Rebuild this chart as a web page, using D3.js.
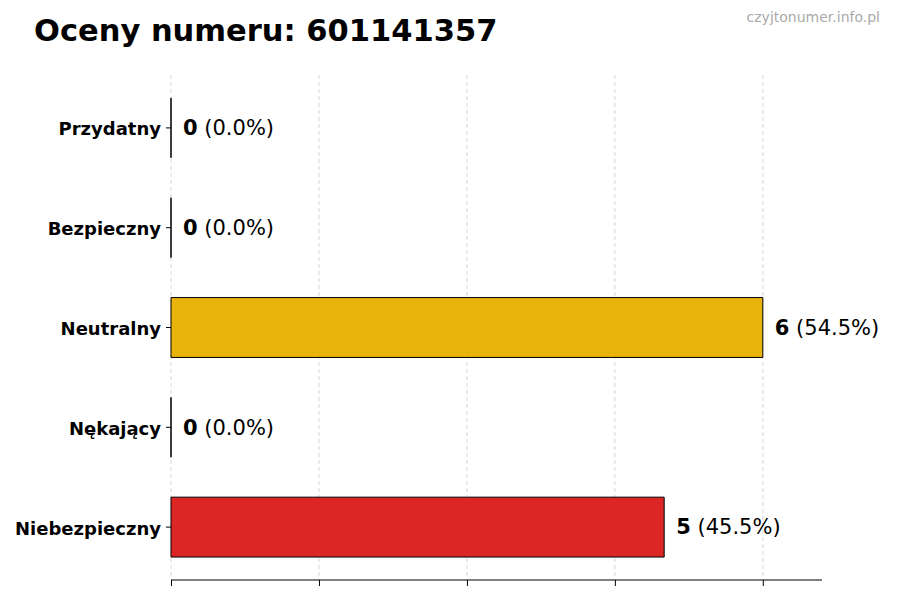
<!DOCTYPE html>
<html><head><meta charset="utf-8">
<script src="https://cdn.jsdelivr.net/npm/d3@7"></script>
<style>body{margin:0;background:#fff;font-family:"DejaVu Sans",sans-serif;}</style>
</head><body><svg id="c" width="900" height="600"></svg>
<script>
const categories = ["Przydatny","Bezpieczny","Neutralny","Nękający","Niebezpieczny"];
const counts = [0,0,6,0,5];
const percents = ["0.0%","0.0%","54.5%","0.0%","45.5%"];
const colors = ["#2e9e44","#3a7bd5","#e8b30b","#e07b1a","#dc2626"];
const xTicks = [0,1.5,3,4.5,6];
const title = "Oceny numeru: 601141357";
const watermark = "czyjtonumer.info.pl";

const svg = d3.select("#c");
const mLeft = 171, mRight = 822, mTop = 75, mBottom = 580;
const x = d3.scaleLinear().domain([0, 6.6]).range([mLeft, mRight]);
const step = (mBottom - mTop) / 5.06;
const y = d3.scaleBand().domain(categories).range([mTop + 0.03*step, mBottom - 0.03*step]).paddingInner(0.4).paddingOuter(0.2);

// grid
svg.append("g").selectAll("line").data(xTicks).join("line")
  .attr("x1", d => x(d)).attr("x2", d => x(d)).attr("y1", mTop).attr("y2", mBottom)
  .attr("stroke", "#cccccc").attr("stroke-width", 0.8).attr("stroke-dasharray", "4,3");

// bars (paths so zero-width bars still show their outline)
svg.append("g").selectAll("path").data(categories).join("path")
  .attr("d", (d,i) => {
    const x0 = x(0), x1 = x(counts[i]), y0 = y(d), y1 = y(d) + y.bandwidth();
    return `M${x0},${y0}H${x1}V${y1}H${x0}Z`;
  })
  .attr("fill", (d,i) => colors[i]).attr("stroke", "#000").attr("stroke-width", 1);

// x axis
const xa = svg.append("g").attr("transform", `translate(0,${mBottom})`)
  .call(d3.axisBottom(x).tickValues(xTicks).tickSize(6).tickFormat(""));
xa.select(".domain").attr("d", `M${mLeft},0H${mRight}`).attr("stroke", "#000");
xa.selectAll(".tick line").attr("stroke", "#000");

// y axis
const ya = svg.append("g").attr("transform", `translate(${mLeft},0)`)
  .call(d3.axisLeft(y).tickSize(5).tickPadding(5));
ya.select(".domain").remove();
ya.selectAll(".tick line").attr("stroke", "#000");
ya.selectAll(".tick text").attr("font-family", "DejaVu Sans").attr("font-size", 18)
  .attr("font-weight", "bold").attr("fill", "#000").attr("dy", "0.42em");

// value labels
const lab = svg.append("g").selectAll("text").data(categories).join("text")
  .attr("x", (d,i) => x(counts[i]) + 12).attr("y", d => y(d) + y.bandwidth()/2)
  .attr("dy", "0.35em").attr("font-size", 21).attr("fill", "#000");
lab.append("tspan").attr("font-weight", "bold").text((d,i) => counts[i]);
lab.append("tspan").text((d,i) => " (" + percents[i] + ")");

svg.append("text").attr("x", 34).attr("y", 41).attr("font-size", 30.5).attr("font-weight", "bold")
  .attr("fill", "#000").text(title);
svg.append("text").attr("x", 880).attr("y", 22).attr("text-anchor", "end").attr("font-size", 14)
  .attr("fill", "#aaaaaa").text(watermark);
</script></body></html>
